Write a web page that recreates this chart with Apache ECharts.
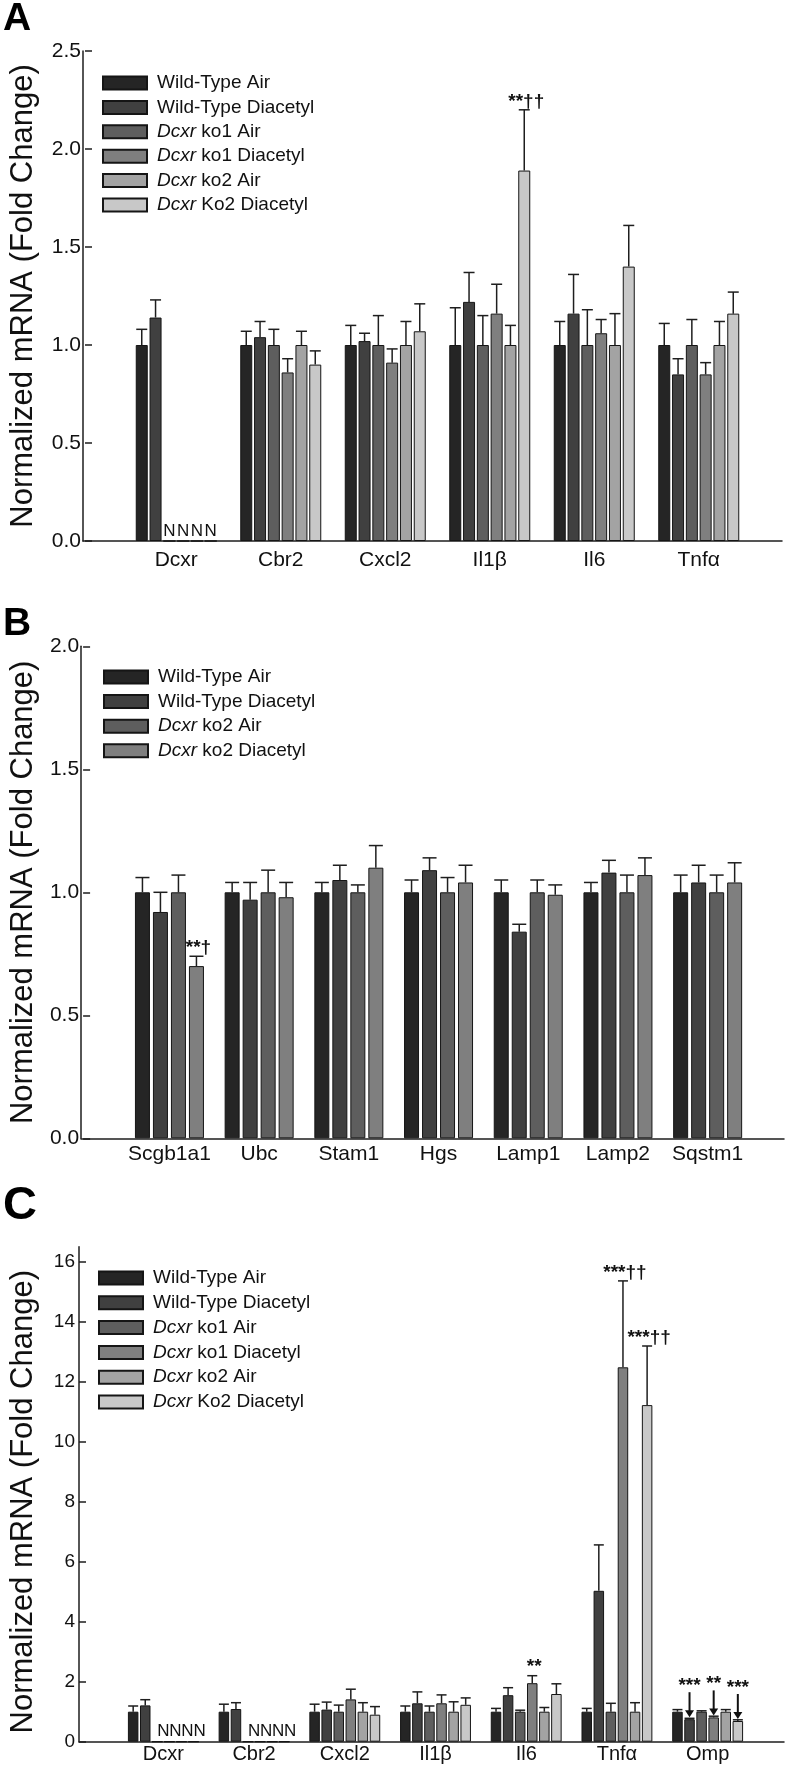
<!DOCTYPE html>
<html>
<head>
<meta charset="utf-8">
<script src="https://cdn.jsdelivr.net/npm/echarts@6/dist/echarts.min.js"></script>
<style>
  html, body { margin: 0; padding: 0; background: #fff; }
  #container { width: 788px; height: 1770px; }
</style>
</head>
<body>
<div id="container"></div>
<script>
// ---- data ----
// panel A
var genesA = ['Dcxr', 'Cbr2', 'Cxcl2', 'Il1β', 'Il6', 'Tnfα'];
var groupsA = ['Wild-Type Air', 'Wild-Type Diacetyl', 'Dcxr ko1 Air', 'Dcxr ko1 Diacetyl', 'Dcxr ko2 Air', 'Dcxr Ko2 Diacetyl'];
var meanA = [
    [1.00, 1.00, 1.00, 1.00, 1.00, 1.00],
    [1.14, 1.04, 1.02, 1.22, 1.16, 0.85],
    [0,    1.00, 1.00, 1.00, 1.00, 1.00],
    [0,    0.86, 0.91, 1.16, 1.06, 0.85],
    [0,    1.00, 1.00, 1.00, 1.00, 1.00],
    [0,    0.90, 1.07, 1.89, 1.40, 1.16]
];
var upperA = [   // top of the error bar
    [1.08, 1.07, 1.10, 1.19, 1.12, 1.11],
    [1.23, 1.12, 1.06, 1.37, 1.36, 0.93],
    [null, 1.08, 1.15, 1.15, 1.18, 1.13],
    [null, 0.93, 0.98, 1.31, 1.13, 0.91],
    [null, 1.07, 1.12, 1.10, 1.16, 1.12],
    [null, 0.97, 1.21, 2.20, 1.61, 1.27]
];
var marksA = [{gene: 'Il1β', bar: 5, text: '**††'}];

// panel B
var genesB = ['Scgb1a1', 'Ubc', 'Stam1', 'Hgs', 'Lamp1', 'Lamp2', 'Sqstm1'];
var groupsB = ['Wild-Type Air', 'Wild-Type Diacetyl', 'Dcxr ko2 Air', 'Dcxr ko2 Diacetyl'];
var meanB = [
    [1.00, 1.00, 1.00, 1.00, 1.00, 1.00, 1.00],
    [0.92, 0.97, 1.05, 1.09, 0.84, 1.08, 1.04],
    [1.00, 1.00, 1.00, 1.00, 1.00, 1.00, 1.00],
    [0.70, 0.98, 1.10, 1.04, 0.99, 1.07, 1.04]
];
var upperB = [
    [1.06, 1.04, 1.04, 1.05, 1.05, 1.04, 1.07],
    [1.00, 1.04, 1.11, 1.14, 0.87, 1.13, 1.11],
    [1.07, 1.09, 1.03, 1.06, 1.05, 1.07, 1.07],
    [0.74, 1.04, 1.19, 1.11, 1.03, 1.14, 1.12]
];
var marksB = [{gene: 'Scgb1a1', bar: 3, text: '**†'}];

// panel C
var genesC = ['Dcxr', 'Cbr2', 'Cxcl2', 'Il1β', 'Il6', 'Tnfα', 'Omp'];
var groupsC = groupsA;
var meanC = [
    [1.00, 1.00, 1.00, 1.00, 1.00, 1.00, 1.00],
    [1.21, 1.09, 1.07, 1.28, 1.55, 5.03, 0.75],
    [0,    0,    1.00, 1.00, 1.00, 1.00, 1.00],
    [0,    0,    1.41, 1.28, 1.95, 12.48, 0.81],
    [0,    0,    1.00, 1.00, 1.00, 1.00, 1.00],
    [0,    0,    0.90, 1.23, 1.59, 11.22, 0.69]
];
var upperC = [
    [1.19, 1.25, 1.25, 1.19, 1.11, 1.11, 1.07],
    [1.40, 1.30, 1.32, 1.66, 1.80, 6.56, 0.78],
    [null, null, 1.22, 1.19, 1.05, 1.28, 1.03],
    [null, null, 1.75, 1.56, 2.20, 15.36, 0.85],
    [null, null, 1.30, 1.33, 1.14, 1.30, 1.07],
    [null, null, 1.17, 1.46, 1.93, 13.19, 0.73]
];
var marksC = [
    {gene: 'Il6', bar: 3, text: '**'},
    {gene: 'Tnfα', bar: 3, text: '***††'},
    {gene: 'Tnfα', bar: 5, text: '***††'},
    {gene: 'Omp', bar: 1, text: '***', arrow: true},
    {gene: 'Omp', bar: 3, text: '**', arrow: true},
    {gene: 'Omp', bar: 5, text: '***', arrow: true}
];

var grays = ['#252525', '#404040', '#5e5e5e', '#7f7f7f', '#a3a3a3', '#c8c8c8'];
var grays4 = ['#252525', '#404040', '#5e5e5e', '#7f7f7f'];
var FONT = '"Liberation Sans", Arial, Helvetica, sans-serif';
var INK = '#1e1e1e';

var dom = document.getElementById('container');
var myChart = echarts.init(dom, null, {renderer: 'canvas'});

var option = {
    backgroundColor: '#fff',
    animation: false,
    title: [],
    legend: [],
    grid: [],
    xAxis: [],
    yAxis: [],
    series: []
};

// one panel = an outer grid (axis lines only) and an inner grid (bars, labels, ticks)
function addPanel(p) {
    var gi = option.grid.length;
    var axisLine = {show: true, lineStyle: {color: INK, width: 1.5}};
    option.grid.push({left: p.axisX, right: p.right, top: p.outerTop, bottom: p.bottom});
    option.grid.push({left: p.innerLeft, width: p.innerWidth, top: p.top, bottom: p.bottom});

    option.xAxis.push({gridIndex: gi, type: 'value', min: 0, max: 1, axisLine: axisLine,
        axisTick: {show: false}, axisLabel: {show: false}, splitLine: {show: false}});
    option.yAxis.push({gridIndex: gi, type: 'value', min: 0, max: p.outerMax, axisLine: axisLine,
        axisTick: {show: false}, axisLabel: {show: false}, splitLine: {show: false}});

    option.xAxis.push({
        gridIndex: gi + 1, type: 'category', data: p.genes,
        axisLine: {show: false}, axisTick: {show: false},
        axisLabel: {interval: 0, fontSize: p.xFont, color: '#111', fontFamily: FONT, margin: p.xMargin}
    });
    option.yAxis.push({
        gridIndex: gi + 1, type: 'value', min: 0, max: p.max, interval: p.interval,
        offset: p.innerLeft - p.axisX,
        axisLine: {show: false},
        axisTick: {show: true, length: 7, lineStyle: {color: INK, width: 1.5}},
        axisLabel: {fontSize: p.yFont, color: '#111', fontFamily: FONT, margin: 11,
            formatter: function (v) { return p.decimals ? v.toFixed(1) : String(v); }},
        splitLine: {show: false},
        name: 'Normalized mRNA (Fold Change)', nameLocation: 'middle', nameGap: p.nameGap,
        nameTextStyle: {fontSize: 31, color: '#111', fontFamily: FONT}
    });

    option.title.push({text: p.letter, left: 3, top: p.letterTop, padding: 0,
        textStyle: {fontSize: p.letterSize, fontWeight: 'bold', color: '#000', fontFamily: FONT}});

    var n = p.groups.length;
    var pitch = p.barWidth * (1 + p.gapRatio);
    var names = p.groups.map(function (g) { return p.letter + '|' + g; });

    names.forEach(function (name, j) {
        option.series.push({
            name: name, type: 'bar', xAxisIndex: gi + 1, yAxisIndex: gi + 1,
            data: p.mean[j], barWidth: p.barWidth, barGap: (p.gapRatio * 100) + '%',
            itemStyle: {color: p.colors[j], borderColor: '#151515', borderWidth: 1},
            label: {show: true, position: 'top', distance: 1, offset: [p.nOffset, 0],
                fontSize: 17, color: '#111', fontFamily: FONT,
                formatter: function (q) { return q.value === 0 ? 'N' : ''; }}
        });
    });

    // error bars (upper whisker only)
    var errData = [];
    p.upper.forEach(function (row, j) {
        row.forEach(function (u, c) {
            if (u != null) errData.push([c, j, p.mean[j][c], u]);
        });
    });
    option.series.push({
        type: 'custom', xAxisIndex: gi + 1, yAxisIndex: gi + 1, z: 3,
        encode: {x: 0, y: 3}, data: errData,
        renderItem: function (params, api) {
            var c = api.value(0), j = api.value(1);
            var p0 = api.coord([c, api.value(2)]);
            var p1 = api.coord([c, api.value(3)]);
            var x = p0[0] + (j - (n - 1) / 2) * pitch;
            var hw = p.cap / 2;
            var st = {stroke: INK, lineWidth: 1.5};
            return {type: 'group', children: [
                {type: 'line', shape: {x1: x, y1: p0[1], x2: x, y2: p1[1]}, style: st},
                {type: 'line', shape: {x1: x - hw, y1: p1[1], x2: x + hw, y2: p1[1]}, style: st}
            ]};
        }
    });

    // significance marks
    var markData = p.marks.map(function (m, k) {
        var c = p.genes.indexOf(m.gene);
        return [c, m.bar, p.mean[m.bar][c], p.upper[m.bar][c], k];
    });
    option.series.push({
        type: 'custom', xAxisIndex: gi + 1, yAxisIndex: gi + 1, z: 4,
        encode: {x: 0, y: 3}, data: markData,
        renderItem: function (params, api) {
            var c = api.value(0), j = api.value(1);
            var m = p.marks[api.value(4)];
            var pb = api.coord([c, api.value(2)]);
            var pu = api.coord([c, api.value(3)]);
            var x = pb[0] + (j - (n - 1) / 2) * pitch;
            var font = 'bold 19px ' + FONT;
            if (!m.arrow) {
                return {type: 'text', x: x + 2, y: pu[1] + 1,
                    style: {text: m.text, fill: '#111', font: font, align: 'center', verticalAlign: 'bottom'}};
            }
            var yEnd = pb[1] - 2, yStart = yEnd - 25;
            return {type: 'group', children: [
                {type: 'line', shape: {x1: x, y1: yStart, x2: x, y2: yEnd - 6}, style: {stroke: '#111', lineWidth: 2}},
                {type: 'polygon', shape: {points: [[x - 4.5, yEnd - 7], [x + 4.5, yEnd - 7], [x, yEnd]]}, style: {fill: '#111'}},
                {type: 'text', x: x, y: yStart + 3,
                    style: {text: m.text, fill: '#111', font: font, align: 'center', verticalAlign: 'bottom'}}
            ]};
        }
    });

    option.legend.push({
        data: names, orient: 'vertical', left: p.legendLeft, top: p.legendTop,
        itemWidth: 44, itemHeight: 13, itemGap: p.legendGap, selectedMode: false, icon: 'rect',
        formatter: function (name) {
            var s = name.split('|')[1];
            return s.indexOf('Dcxr ') === 0 ? '{i|Dcxr} ' + s.slice(5) : s;
        },
        textStyle: {fontSize: 19, color: '#111', fontFamily: FONT, lineHeight: 20, padding: [0, 0, 0, 5],
            rich: {i: {fontSize: 19, color: '#111', fontFamily: FONT, fontStyle: 'italic', lineHeight: 20}}}
    });
}

addPanel({
    letter: 'A', letterTop: 0, letterSize: 39,
    genes: genesA, groups: groupsA, mean: meanA, upper: upperA, marks: marksA, colors: grays,
    axisX: 83, right: 6, innerLeft: 115, innerWidth: 636,
    top: 51, outerTop: 51, bottom: 1229, max: 2.5, outerMax: 2.5, interval: 0.5, decimals: true,
    barWidth: 12, gapRatio: 0.15, cap: 11, nOffset: 0,
    xFont: 21, xMargin: 9, yFont: 21, nameGap: 53,
    legendLeft: 97, legendTop: 68, legendGap: 4.4
});

addPanel({
    letter: 'B', letterTop: 605, letterSize: 39,
    genes: genesB, groups: groupsB, mean: meanB, upper: upperB, marks: marksB, colors: grays4,
    axisX: 81, right: 4, innerLeft: 115.5, innerWidth: 637,
    top: 646.3, outerTop: 646.3, bottom: 631.7, max: 2, outerMax: 2, interval: 0.5, decimals: true,
    barWidth: 15, gapRatio: 0.2, cap: 14, nOffset: 0,
    xFont: 21, xMargin: 5, yFont: 21, nameGap: 51,
    legendLeft: 98, legendTop: 662, legendGap: 4.6
});

addPanel({
    letter: 'C', letterTop: 1183, letterSize: 47,
    genes: genesC, groups: groupsC, mean: meanC, upper: upperC, marks: marksC, colors: grays,
    axisX: 79, right: 4, innerLeft: 111, innerWidth: 642,
    top: 1261.7, outerTop: 1246.7, bottom: 28.3, max: 16, outerMax: 16.5, interval: 2, decimals: false,
    barWidth: 10.5, gapRatio: 0.15, cap: 10, nOffset: 6,
    xFont: 20, xMargin: 3, yFont: 19, nameGap: 47,
    legendLeft: 93, legendTop: 1263, legendGap: 4.8
});

if (option && typeof option === 'object') {
    myChart.setOption(option, true);
}
</script>
</body>
</html>
